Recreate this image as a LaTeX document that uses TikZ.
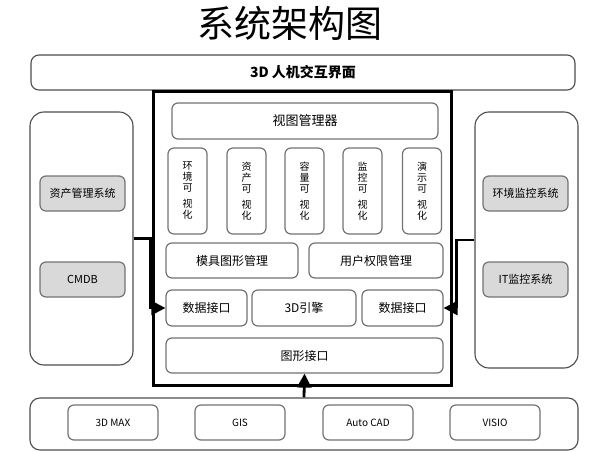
\documentclass[tikz,border=0pt]{standalone}
\usepackage{fontspec}
\setmainfont{Noto Sans CJK SC}
\usepackage{tikz}
\usetikzlibrary{arrows.meta,positioning}

\tikzset{
  box/.style={draw=black!55, line width=1.2pt, rounded corners=6pt, fill=white, inner sep=0pt, font=\fontsize{12}{14}\selectfont},
  sysbox/.style={box, fill=black!15, minimum width=85pt, minimum height=35pt, font=\fontsize{11}{13}\selectfont},
  visbox/.style={box, minimum width=39pt, minimum height=86pt, align=center, font=\fontsize{10}{11}\selectfont},
  toolbox/.style={box, minimum width=90pt, minimum height=35pt, font=\fontsize{10}{12}\selectfont},
  panel/.style={draw=black!70, line width=1.1pt, rounded corners=14pt, inner sep=0pt},
  conn/.style={line width=2.8pt, -{Triangle[length=14pt,width=14pt]}}
}

\begin{document}
\begin{tikzpicture}[x=1pt,y=-1pt]
\useasboundingbox (0,0) rectangle (600,452);
\node[font=\fontsize{37}{40}\selectfont] (title) at (290,23) {系统架构图};
\node[panel, rounded corners=8pt, minimum width=544pt, minimum height=35pt, font=\bfseries\fontsize{14}{16}\selectfont] (ui) at (303,72.5) {3D 人机交互界面};

% core
\node[draw, line width=3pt, minimum width=298pt, minimum height=293pt, inner sep=0pt] (core) at (302,238.5) {};
\node[box, minimum width=266pt, minimum height=36pt, font=\fontsize{13}{15}\selectfont] (view) at (305,121) {视图管理器};
\node[visbox] (vis1) at (187.5,191) {环\\境\\可\\[5pt]视\\化};
\node[visbox] (vis2) at (246.5,191) {资\\产\\可\\[5pt]视\\化};
\node[visbox] (vis3) at (304.5,191) {容\\量\\可\\[5pt]视\\化};
\node[visbox] (vis4) at (362.5,191) {监\\控\\可\\[5pt]视\\化};
\node[visbox] (vis5) at (422,191) {演\\示\\可\\[5pt]视\\化};
\node[box, minimum width=132pt, minimum height=35pt] (model) at (232,260.5) {模具图形管理};
\node[box, minimum width=134pt, minimum height=35pt] (auth) at (376,260.5) {用户权限管理};
\node[box, minimum width=81pt, minimum height=36pt] (dataL) at (206.5,308) {数据接口};
\node[box, minimum width=104pt, minimum height=36pt] (engine) at (304,308) {3D引擎};
\node[box, minimum width=81pt, minimum height=36pt] (dataR) at (402.5,308) {数据接口};
\node[box, minimum width=277pt, minimum height=35pt] (gfx) at (304.5,355.5) {图形接口};

% left / right systems
\node[panel, minimum width=103pt, minimum height=253pt] (leftsys) at (81.5,238.5) {};
\node[sysbox] (asset) at (82.5,193.5) {资产管理系统};
\node[sysbox] (cmdb) at (82.5,279.5) {CMDB};
\node[panel, minimum width=103pt, minimum height=256pt] (rightsys) at (526.5,240) {};
\node[sysbox] (envmon) at (525.5,193.5) {环境监控系统};
\node[sysbox] (itmon) at (525.5,279.5) {IT监控系统};

% tools
\node[panel, rounded corners=10pt, minimum width=548pt, minimum height=52pt] (tools) at (304,424) {};
\node[toolbox] (max) at (113,422.5) {3D MAX};
\node[toolbox] (gis) at (240,422.5) {GIS};
\node[toolbox] (cad) at (368,422.5) {Auto CAD};
\node[toolbox] (visio) at (495,422.5) {VISIO};

\draw[conn] (leftsys.east) -- ++(17,0) |- (dataL.west);
\draw[conn] (rightsys.west) -- ++(-18,0) |- (dataR.east);
\draw[conn] (tools.north) -- (gfx.south);
\end{tikzpicture}
\end{document}
